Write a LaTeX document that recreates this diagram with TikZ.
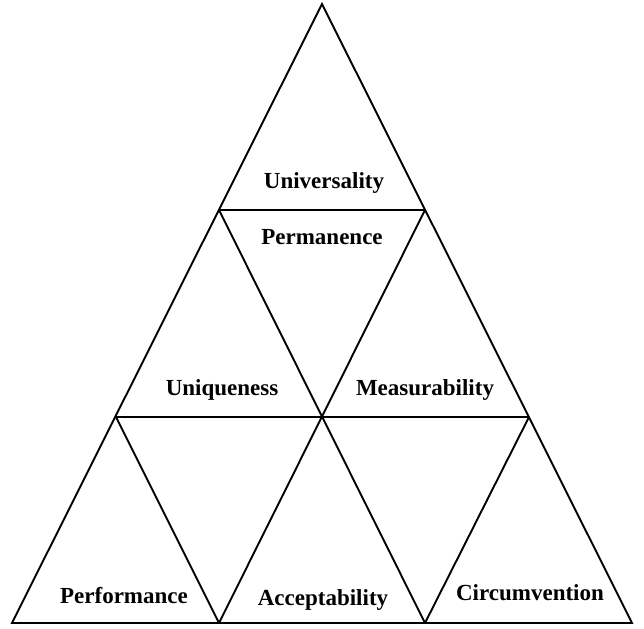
\documentclass[tikz,border=0pt]{standalone}
\usepackage{fontspec}
\setmainfont{Liberation Serif}
\tikzset{
    label/.style={anchor=base, font=\fontsize{23}{27}\selectfont\bfseries},
}
\begin{document}
\begin{tikzpicture}[x=1pt,y=-1pt,line width=1.9pt,line join=miter]
    \useasboundingbox (0,0) rectangle (644,628);

    % corners of the nine small triangles
    \coordinate (top) at (322,4);
    \coordinate (l1) at (219,210);
    \coordinate (r1) at (425,210);
    \coordinate (l2) at (116,417);
    \coordinate (m2) at (322,417);
    \coordinate (r2) at (529,417);
    \coordinate (b0) at (12,623);
    \coordinate (b1) at (219,623);
    \coordinate (b2) at (425,623);
    \coordinate (b3) at (632,623);

    % outer triangle
    \draw (top) -- (b3) -- (b0) -- cycle;
    % rows
    \draw (l1) -- (r1);
    \draw (l2) -- (r2);
    % inner sides
    \draw (l1) -- (b2);
    \draw (r1) -- (b1);
    \draw (l2) -- (b1);
    \draw (r2) -- (b2);

    \node[label] (universality) at (324,189) {Universality};
    \node[label] (permanence) at (322,244) {Permanence};
    \node[label] (uniqueness) at (222,395) {Uniqueness};
    \node[label] (measurability) at (425,395) {Measurability};
    \node[label] (performance) at (124,603) {Performance};
    \node[label] (acceptability) at (323,605) {Acceptability};
    \node[label] (circumvention) at (530,600) {Circumvention};
\end{tikzpicture}
\end{document}
